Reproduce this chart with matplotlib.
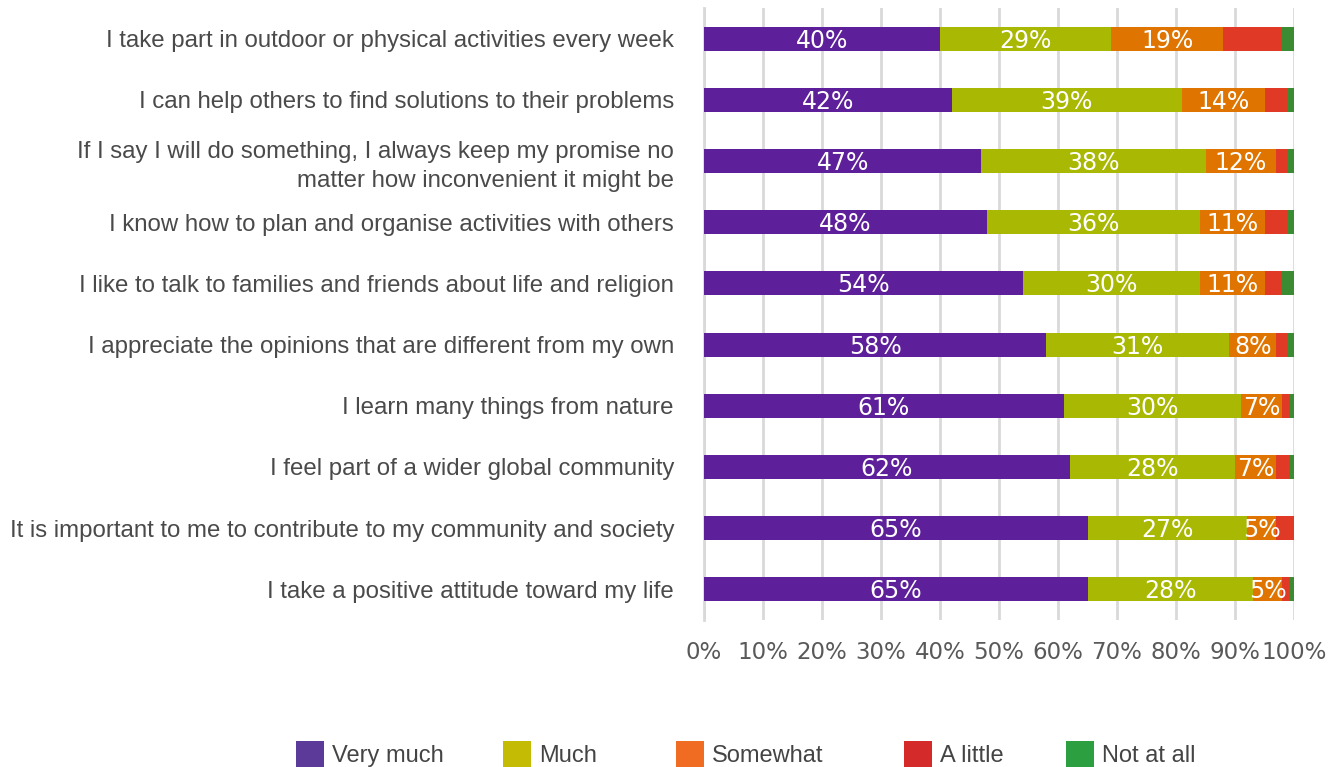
import matplotlib
matplotlib.use("Agg")
import matplotlib.pyplot as plt
from matplotlib.patches import Rectangle
from matplotlib.transforms import ScaledTranslation

statements = [
    "I take part in outdoor or physical activities every week",
    "I can help others to find solutions to their problems",
    "If I say I will do something, I always keep my promise no\nmatter how inconvenient it might be",
    "I know how to plan and organise activities with others",
    "I like to talk to families and friends about life and religion",
    "I appreciate the opinions that are different from my own",
    "I learn many things from nature",
    "I feel part of a wider global community",
    "It is important to me to contribute to my community and society",
    "I take a positive attitude toward my life",
]

very_much = [40, 42, 47, 48, 54, 58, 61, 62, 65, 65]
much      = [29, 39, 38, 36, 30, 31, 30, 28, 27, 28]
somewhat  = [19, 14, 12, 11, 11, 8, 7, 7, 5, 5]
a_little  = [10, 4, 2, 4, 3, 2, 1.3, 2.2, 3, 1.3]
not_at_all = [2, 1, 1, 1, 2, 1, 0.7, 0.8, 0, 0.7]

series_names = ["Very much", "Much", "Somewhat", "A little", "Not at all"]
bar_colors = ["#5e1f9a", "#a9b802", "#df7500", "#e03a26", "#3a8b32"]
legend_colors = ["#5b3a99", "#c4bc04", "#f06c22", "#d42a2a", "#2ca040"]
labelled = [True, True, True, False, False]

xticks = [0, 10, 20, 30, 40, 50, 60, 70, 80, 90, 100]

W, H = 1344, 767
fig = plt.figure(figsize=(W / 100, H / 100), dpi=100)
ax = fig.add_axes([704 / W, 1 - 620 / H, 590 / W, 612 / H])

ypos = list(range(len(statements)))
left = [0.0] * len(statements)
all_series = [very_much, much, somewhat, a_little, not_at_all]
for vals, name, col, lab in zip(all_series, series_names, bar_colors, labelled):
    bars = ax.barh(ypos, vals, left=left, height=0.39, color=col, label=name, zorder=3)
    if lab:
        for b, v in zip(bars, vals):
            ax.annotate(f"{v:g}%",
                        (b.get_x() + b.get_width() / 2, b.get_y() + b.get_height() / 2),
                        xytext=(0, -1.5), textcoords="offset points",
                        ha="center", va="center", color="white",
                        fontsize=17, family="DejaVu Sans", zorder=4)
    left = [l + v for l, v in zip(left, vals)]

ax.set_xlim(0, 100)
ax.set_ylim(len(statements) - 0.5, -0.5)
ax.set_xticks(xticks)
ax.set_xticklabels([f"{t}%" for t in xticks], fontsize=16.5, color="#595959", family="DejaVu Sans")
ax.set_yticks(ypos)
ax.set_yticklabels(statements, fontsize=17.3, color="#4a4a4a", family="Liberation Sans",
                   linespacing=1.4)
# nudge the statement labels slightly upward
lift = ScaledTranslation(0, 0.03, fig.dpi_scale_trans)
for lbl in ax.get_yticklabels():
    lbl.set_transform(lbl.get_transform() + lift)
ax.tick_params(axis="x", length=0, pad=15)
ax.tick_params(axis="y", length=0, pad=21.6)
ax.grid(axis="x", color="#d9d9d9", linewidth=2, zorder=0)
for s in ["top", "right", "bottom"]:
    ax.spines[s].set_visible(False)
ax.spines["left"].set_color("#d9d9d9")
ax.spines["left"].set_linewidth(2)

# legend row along the bottom edge
legend_x = [296, 503, 676, 904, 1066]
box = 28
for x0, name, col in zip(legend_x, series_names, legend_colors):
    fig.patches.append(Rectangle((x0 / W, 1 - (741 + box) / H), box / W, box / H,
                                 transform=fig.transFigure, facecolor=col,
                                 edgecolor="none"))
    fig.text((x0 + box + 8) / W, 1 - 756 / H, name, ha="left", va="center",
             fontsize=17, family="Liberation Sans", color="#444444")

fig.savefig("out.png", dpi=100)
